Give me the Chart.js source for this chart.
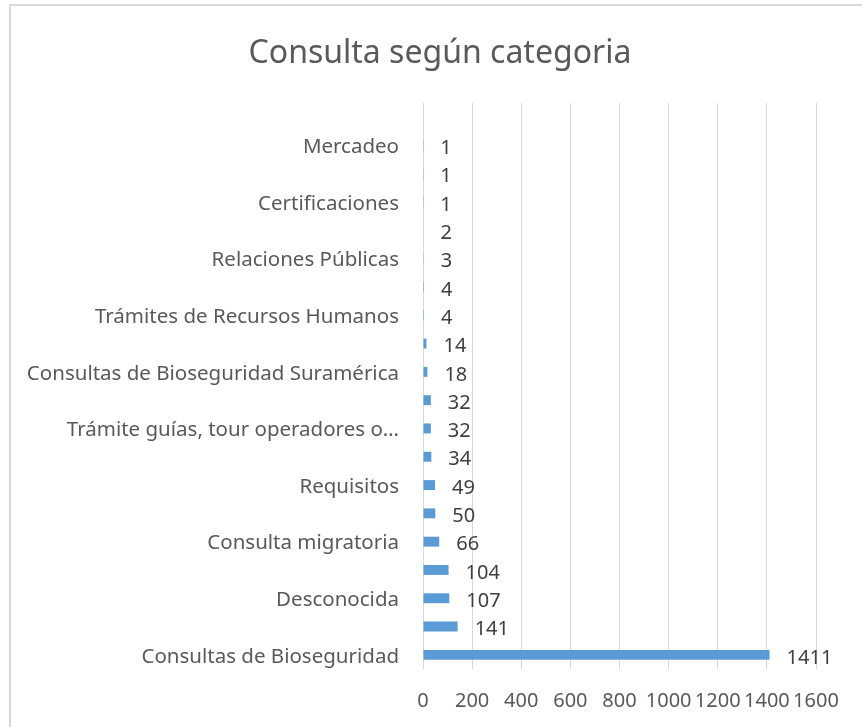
<!DOCTYPE html>
<html>
<head>
<meta charset="utf-8">
<script src="https://cdn.jsdelivr.net/npm/chart.js@4.4.1/dist/chart.umd.min.js"></script>
<style>
  html, body { margin: 0; padding: 0; background: #fff; }
  #wrap { position: relative; width: 862px; height: 727px; overflow: hidden; }
  #frame { position: absolute; left: 9px; top: 4px; width: 900px; height: 800px;
           border-left: 2px solid #d9d9d9; border-top: 2px solid #d9d9d9; }
  canvas { position: absolute; left: 0; top: 0; }
</style>
</head>
<body>
<div id="wrap">
  <div id="frame"></div>
  <canvas id="chart" width="862" height="727"></canvas>
</div>
<script>
// categorias de arriba hacia abajo (las vacias no se ven en la imagen)
const categorias = [
  '', 'Mercadeo', '', 'Certificaciones', '', 'Relaciones Públicas', '',
  'Trámites de Recursos Humanos', '', 'Consultas de Bioseguridad Suramérica', '',
  'Trámite guías, tour operadores o…', '', 'Requisitos', '', 'Consulta migratoria', '',
  'Desconocida', '', 'Consultas de Bioseguridad'
];
const consultas = [
  null, 1, 1, 1, 2, 3, 4, 4, 14, 18, 32, 32, 34, 49, 50, 66, 104, 107, 141, 1411
];
const xMin = 0;
const xMax = 1600;
const xPaso = 200;

const titulo = 'Consulta según categoria';
const fuente = "'Noto Sans', sans-serif";

// titulo centrado en el marco
const tituloPlugin = {
  id: 'tituloPlugin',
  afterDraw(chart) {
    const ctx = chart.ctx;
    ctx.save();
    ctx.font = '32px ' + fuente;
    ctx.fillStyle = '#595959';
    ctx.textAlign = 'center';
    ctx.textBaseline = 'middle';
    ctx.fillText(titulo, 440, 54);
    ctx.restore();
  }
};

// etiquetas de datos a la derecha de cada barra
const etiquetas = {
  id: 'etiquetas',
  afterDatasetsDraw(chart) {
    const ctx = chart.ctx;
    const meta = chart.getDatasetMeta(0);
    ctx.save();
    ctx.font = '20px ' + fuente;
    ctx.fillStyle = '#404040';
    ctx.textAlign = 'left';
    ctx.textBaseline = 'middle';
    meta.data.forEach((bar, i) => {
      const v = consultas[i];
      if (v === null) return;
      ctx.fillText(String(v), bar.x + 17, bar.y + 3);
    });
    ctx.restore();
  }
};

const ctx = document.getElementById('chart');

const config = {
  type: 'bar',
  data: {
    labels: categorias,
    datasets: [{
      data: consultas,
      backgroundColor: '#5b9bd5',
      barPercentage: 0.7,
      categoryPercentage: 0.5
    }]
  },
  options: {
    indexAxis: 'y',
    responsive: false,
    animation: false,
    layout: { padding: { left: 0, right: 46, top: 103, bottom: 0 } },
    plugins: {
      legend: { display: false },
      tooltip: { enabled: false },
      title: { display: false }
    },
    scales: {
      x: {
        min: xMin,
        max: xMax,
        ticks: {
          stepSize: xPaso,
          autoSkip: false,
          maxRotation: 0,
          minRotation: 0,
          color: '#595959',
          font: { family: fuente, size: 20 },
          padding: 20,
          callback: (v) => String(v)
        },
        grid: { color: '#d9d9d9', lineWidth: 1, drawTicks: false },
        border: { display: false },
        afterFit: (scale) => { scale.height = 58; }
      },
      y: {
        ticks: {
          autoSkip: false,
          color: '#595959',
          font: { family: fuente, size: 20.5 },
          padding: 16,
          labelOffset: 2
        },
        grid: { display: false },
        border: { display: false },
        afterFit: (scale) => { scale.width = 423; }
      }
    }
  },
  plugins: [etiquetas, tituloPlugin]
};

const chart = new Chart(ctx, config);
</script>
</body>
</html>
